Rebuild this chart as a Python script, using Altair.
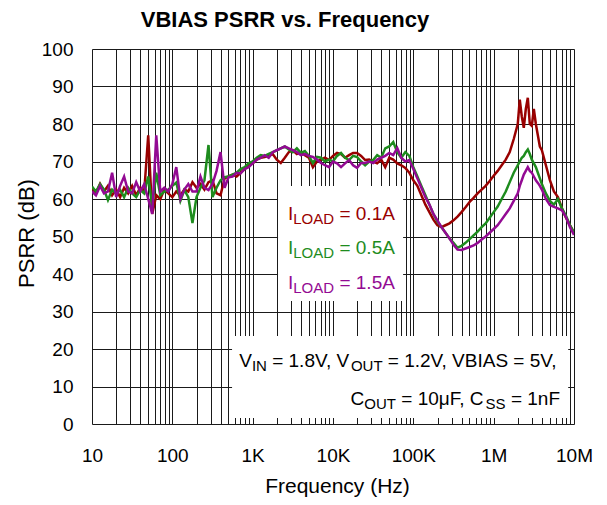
import altair as alt
import pandas as pd

# ---------------- data ----------------
freq_hz = [
    10, 11.2, 12.6, 14.1, 15.8, 17.8, 20, 22.4, 25.1, 28.2,
    31.6, 35.5, 39.8, 44.7, 50.1, 56.2, 63.1, 70.8, 79.4, 89.1,
    100, 112, 126, 141, 158, 178, 200, 224, 251, 282,
    316, 355, 398, 447, 501, 562, 631, 708, 794, 891,
    1000,
    1122, 1259, 1413, 1585, 1778, 1995, 2239, 2512, 2818, 3162,
    3548, 3981, 4467, 5012, 5623, 6310, 7079, 7943, 8913, 10000,
    11220, 12590, 14130, 15850, 17780, 19950, 22390, 25120, 28180, 31620,
    35480, 39810, 44670,
    50120, 56230, 63100, 70790, 79430, 89130, 100000, 112200, 125900, 141300,
    158500, 177800, 199500, 223900, 251200, 281800, 316200, 354800, 398100, 446700,
    501200, 562300, 631000, 707900, 794300, 891300, 1000000, 1122000, 1259000, 1413000,
    1585000, 1778000, 1995000,
    2113000, 2239000, 2371000, 2512000, 2661000, 2818000, 2985000, 3162000,
    3350000, 3548000, 3758000, 3981000,
    4467000, 5012000, 5623000, 6310000, 7079000, 7943000, 8913000, 10000000,
]

psrr_0p1A = [
    63, 61.5, 64, 62, 63.5, 61, 62.5, 60.5, 63, 61.5, 63.5, 61, 63, 62, 77, 56, 61, 60,
    62.5, 61.5, 60.5, 62, 61, 62.5, 62, 64.5, 63, 64, 62.5, 64.5, 65, 61.5, 61, 65.5,
    66, 66.5, 66, 67, 68, 69, 69.5,
    70.5, 71, 71.2, 71.5, 72, 70.5, 69.6, 71, 72.5, 73, 72, 72.5, 71.7, 71, 68.5, 70,
    70.5, 71, 70.4, 71.5, 72.3, 72, 71, 71.7, 72.3, 72.3, 71.5, 70.4, 70.5, 70, 69.5,
    70.5, 68.5,
    71, 70.5, 69.5, 69, 68.3, 67, 65, 63.5, 61, 58.5, 56.5, 54.5, 53, 52.5, 53, 53.5,
    54.3, 55.3, 56.5, 57.8, 59.2, 60.3, 61.5, 62.5, 63.5, 64.8, 66.2, 67.5, 69, 70.5,
    72.5, 76, 80,
    86.5, 82, 79, 84, 87, 80, 79.5, 84, 80, 77, 74, 73,
    69, 65, 62, 60.5, 57.5, 55, 53, 51,
]

psrr_0p5A = [
    63.3, 62, 64, 62.5, 59.7, 62.5, 61.5, 62.4, 60.5, 63, 61.5, 60.5, 62.4, 61.5, 66, 58,
    67, 61, 62, 62.5, 63.5, 64.4, 59.5, 62.4, 60.5, 53.6, 60.5, 63, 65, 74.4, 60.5, 63,
    65, 65.8, 66, 66.5, 67, 68, 68.5, 69.5, 70,
    71, 71.7, 71.5, 72, 72.5, 73, 73.5, 74, 73.2, 72.5, 73.5, 72.3, 72.8, 71.5, 69.6,
    71.2, 71, 70, 70.5, 70, 71.5, 72.3, 71, 70.4, 71.5, 71.2, 70, 69, 70, 70.4, 71.7,
    71, 73.5,
    74, 75.2, 72.5, 71, 72.5, 71.5, 68.5, 66, 63.5, 61, 58.5, 56, 54, 52.5, 51, 49.5,
    48.3, 47, 47.5, 48.3, 49.3, 50.3, 51.3, 52.5, 53.5, 55, 56.5, 58, 60, 62, 64.5,
    67, 69,
    70, 71, 71.5, 72.5, 73.2, 72, 70.5, 69.5, 68.5, 67, 65.5, 64,
    61.5, 59.5, 58.5, 60, 57.5, 55.5, 53, 51,
]

psrr_1p5A = [
    62, 61, 63.5, 61.5, 62, 67, 60.5, 63.5, 66, 62, 61.5, 64.5, 62, 64, 60, 56, 77, 62,
    63, 62, 64, 68.5, 60, 62.5, 64, 62, 62, 66, 63, 62.4, 64, 67.5, 72.5, 63, 65.8, 66,
    67, 66.8, 68, 68.5, 69.5,
    70.5, 71, 71.7, 71, 72.5, 73, 73.5, 74, 73.5, 73, 72.5, 71.7, 72, 71.5, 71.2, 70.5,
    69.6, 69, 68.5, 70, 69.5, 68.5, 69.5, 70.4, 69, 68.3, 69.6, 69.6, 70, 69.6, 70.5,
    71, 71.5,
    72.3, 71.7, 73.6, 71, 70, 70.4, 68, 65.5, 63, 60.5, 58.5, 56, 54.3, 52.5, 51, 49.5,
    47.8, 46.5, 46.4, 46.8, 47.2, 47.6, 48.3, 49.2, 50, 51, 52, 53, 54.5, 56, 57.5,
    59.5, 61.5,
    63.5, 65, 66.5, 67.5, 68.5, 67.5, 67, 66, 65, 64.3, 63.5, 62.5,
    60, 58.4, 57.9, 57.5, 57, 55.2, 52.5, 50.4,
]

load_names = ["0.1A", "0.5A", "1.5A"]
load_colors = ["#990000", "#1e8c1e", "#930a93"]
series = [psrr_0p1A, psrr_0p5A, psrr_1p5A]

y_ticks = [0, 10, 20, 30, 40, 50, 60, 70, 80, 90, 100]
x_ticks = [m * 10 ** d for d in range(1, 7) for m in range(1, 10)] + [10000000]
decade_labels = {10: "10", 100: "100", 1000: "1K", 10000: "10K",
                 100000: "100K", 1000000: "1M", 10000000: "10M"}

# white note boxes (data coordinates): legend box and conditions box
box_f0 = [2070, 554]
box_f1 = [74600, 8470000]
box_db0 = [32.8, 1.6]
box_db1 = [63.5, 23.5]

# ---------------- chart ----------------
FONT = "Liberation Sans"
MAIN = 19
SUB = 15

label_expr = " : ".join(
    f"datum.value == {v} ? '{t}'" for v, t in decade_labels.items()
) + " : ''"

x_axis = alt.Axis(
    values=x_ticks, labelExpr=label_expr, grid=True, gridColor="#1a1a1a",
    gridWidth=1, gridOpacity=1, ticks=False, tickSize=0, domain=False,
    labelPadding=22, labelFontSize=MAIN, labelFont=FONT, labelColor="black",
    labelFlush=False, labelOverlap=False,
    title="Frequency (Hz)", titleFont=FONT, titleFontSize=21,
    titleFontWeight="normal", titleColor="black", titleX=245, titleY=68,
    titleBaseline="alphabetic", titleAlign="center",
)
y_axis = alt.Axis(
    values=y_ticks, grid=True, gridColor="#1a1a1a", gridWidth=1, gridOpacity=1,
    ticks=False, tickSize=0, domain=False,
    labelPadding=19, labelFontSize=MAIN, labelFont=FONT, labelColor="black",
    labelFlush=False, labelOverlap=False,
    title="PSRR (dB)", titleFont=FONT, titleFontSize=22,
    titleFontWeight="normal", titleColor="black", titleAngle=270,
    titleX=-59, titleY=184, titleBaseline="alphabetic", titleAlign="center",
)
x_scale = alt.Scale(type="log", domain=[10, 10000000], nice=False)
y_scale = alt.Scale(domain=[0, 100], nice=False)

boxes = alt.Chart(pd.DataFrame({"f0": box_f0, "f1": box_f1,
                                "d0": box_db0, "d1": box_db1})).mark_rect(
    fill="white", stroke=None
).encode(
    x=alt.X("f0:Q", scale=x_scale, axis=x_axis),
    x2="f1:Q",
    y=alt.Y("d0:Q", scale=y_scale, axis=y_axis),
    y2="d1:Q",
)

layers = [boxes]
for name, color, vals in zip(load_names, load_colors, series):
    df = pd.DataFrame({"freq": freq_hz, "psrr": vals, "load": name})
    layers.append(
        alt.Chart(df).mark_line(color=color, strokeWidth=2.5, clip=True).encode(
            x=alt.X("freq:Q", scale=x_scale, axis=x_axis),
            y=alt.Y("psrr:Q", scale=y_scale, axis=y_axis),
            order="freq:Q",
        )
    )

WIDTHS = {"V": 0.667, "I": 0.278, "N": 0.722, "O": 0.778, "U": 0.722, "T": 0.611,
          "L": 0.556, "A": 0.667, "D": 0.722, "C": 0.722, "S": 0.667, "B": 0.667,
          "F": 0.611, "=": 0.584, " ": 0.278, ".": 0.278, ",": 0.278, "μ": 0.576,
          "n": 0.556}


def text_width(s, size):
    return sum(WIDTHS.get(c, 0.556) for c in s) * size


def rich_line(pieces, x0, y0, color):
    out = []
    x = x0
    for txt, sub in pieces:
        size = SUB if sub else MAIN
        lead = len(txt) - len(txt.lstrip(" "))
        xs = x + lead * WIDTHS[" "] * size
        out.append(
            alt.Chart(pd.DataFrame({"label": [txt.strip()]})).mark_text(
                align="left", baseline="alphabetic", fontSize=size, font=FONT,
                color=color,
            ).encode(text="label:N", x=alt.value(xs),
                     y=alt.value(y0 + (4 if sub else 0)))
        )
        x += text_width(txt, size)
    return out


# legend texts
legend_baselines = [171, 205, 240]
for name, color, yb in zip(load_names, load_colors, legend_baselines):
    layers += rich_line([("I", False), ("LOAD", True), (" = " + name, False)],
                        196, yb, color)

# conditions box text (right aligned)
line1 = [("V", False), ("IN", True), (" = 1.8V, V", False), ("OUT", True),
         (" = 1.2V, VBIAS = 5V,", False)]
line2 = [("C", False), ("OUT", True), (" = 10μF, C", False), ("SS", True),
         (" = 1nF", False)]
right_edge = 468
for pieces, yb in [(line1, 318), (line2, 356)]:
    total = sum(text_width(t, SUB if s else MAIN) for t, s in pieces)
    layers += rich_line(pieces, right_edge - total, yb, "black")

title = alt.Chart(pd.DataFrame({"label": ["VBIAS PSRR vs. Frequency"]})).mark_text(
    align="center", baseline="alphabetic", fontSize=22, fontWeight="bold",
    font=FONT, color="black",
).encode(text="label:N", x=alt.value(193), y=alt.value(-22))
layers.append(title)

chart = alt.layer(*layers).properties(
    width=482, height=375,
    autosize=alt.AutoSizeParams(type="none"),
    padding={"left": 84, "top": 41, "right": 22, "bottom": 76},
).configure_view(stroke="black", strokeWidth=1).configure(font=FONT)

chart.save("out.html", embed_options={"renderer": "svg", "actions": False})
